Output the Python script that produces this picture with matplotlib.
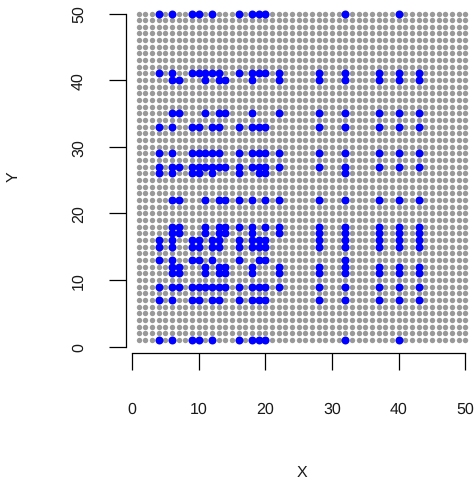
import numpy as np
import matplotlib
matplotlib.use('Agg')
import matplotlib.pyplot as plt

plt.rcParams['font.family'] = ['Liberation Sans', 'DejaVu Sans']
plt.rcParams['text.hinting'] = 'no_hinting'

# Full background grid
grid_x = np.arange(1, 51)
grid_y = np.arange(1, 51)

# Highlighted points, one list of x values for each y row
right_cols = [28, 32, 37, 40, 43]
row_y = [50, 41, 40, 35, 33, 29, 27, 26, 22, 18, 17, 16, 15, 13, 12, 11, 9, 7, 1]
row_x = [
    [4, 6, 9, 10, 12, 16, 18, 19, 20, 32, 40],
    [4, 6, 9, 10, 11, 12, 13, 16, 18, 19, 20, 22] + right_cols,
    [6, 7, 11, 13, 14, 18, 22] + right_cols,
    [6, 7, 11, 13, 14, 18, 22] + right_cols,
    [4, 6, 9, 10, 12, 13, 16, 18, 19, 20] + right_cols,
    [4, 6, 9, 10, 11, 12, 13, 16, 18, 19, 20, 22] + right_cols,
    [4, 6, 7, 9, 10, 11, 12, 13, 14, 16, 18, 19, 20, 22] + right_cols,
    [4, 6, 9, 10, 12, 16, 19, 20, 32],
    [6, 7, 11, 13, 14, 16, 18, 20, 22] + right_cols,
    [6, 7, 11, 13, 14, 16, 18, 20, 22] + right_cols,
    [6, 7, 11, 13, 14, 18, 22] + right_cols,
    [4, 6, 9, 10, 12, 13, 16, 18, 19, 20] + right_cols,
    [4, 6, 9, 10, 12, 13, 16, 18, 19, 20] + right_cols,
    [4, 6, 9, 10, 12, 16, 19, 20, 32],
    [6, 7, 11, 13, 14, 18, 22] + right_cols,
    [6, 7, 11, 13, 14, 18, 22] + right_cols,
    [4, 6, 7, 9, 10, 11, 12, 13, 14, 16, 18, 19, 20, 22] + right_cols,
    [4, 6, 9, 10, 12, 13, 16, 18, 19, 20] + right_cols,
    [4, 6, 9, 10, 12, 16, 18, 19, 20, 32, 40],
]
ticks = [0, 10, 20, 30, 40, 50]

W, H = 476, 481
fig = plt.figure(figsize=(W / 100, H / 100), dpi=100)
ax = fig.add_axes([132 / W, 1 - 347.7 / H, 333.3 / W, 333.2 / H])

# Plot the grid, then the highlighted points on top
gx, gy = np.meshgrid(grid_x, grid_y)
pts = ax.scatter(gx.ravel(), gy.ravel(), s=15, color='#999999', linewidths=0, clip_on=False, zorder=2)
pts.set_snap(False)
for y, xs in zip(row_y, row_x):
    pts = ax.scatter(xs, [y] * len(xs), s=33, color='#0000ff', linewidths=0, clip_on=False, zorder=3)
    pts.set_snap(False)

ax.set_xlim(0, 50)
ax.set_ylim(0, 50)
ax.set_xticks(ticks)
ax.set_yticks(ticks)

# Detached R style axes
for side in ['top', 'right']:
    ax.spines[side].set_visible(False)
ax.spines['left'].set_position(('outward', 4.5))
ax.spines['bottom'].set_position(('outward', 4.75))
for side in ['left', 'bottom']:
    ax.spines[side].set_linewidth(0.9)
    ax.spines[side].set_bounds(0, 50)

ax.tick_params(axis='x', length=12.5, width=0.9, pad=22, labelsize=11.5, labelcolor='#1a1a1a')
ax.tick_params(axis='y', length=12.5, width=0.9, pad=16, labelsize=11.5, labelcolor='#1a1a1a')
for label in ax.get_yticklabels():
    label.set_rotation(90)
    label.set_va('center')

fig.text(301.7 / W, 1 - 472.7 / H, 'X', ha='center', va='center', fontsize=11.5, color='#1a1a1a')
fig.text(14 / W, 1 - 177 / H, 'Y', ha='center', va='center', rotation=90, fontsize=11.5, color='#1a1a1a')

fig.savefig('out.png', dpi=100)
